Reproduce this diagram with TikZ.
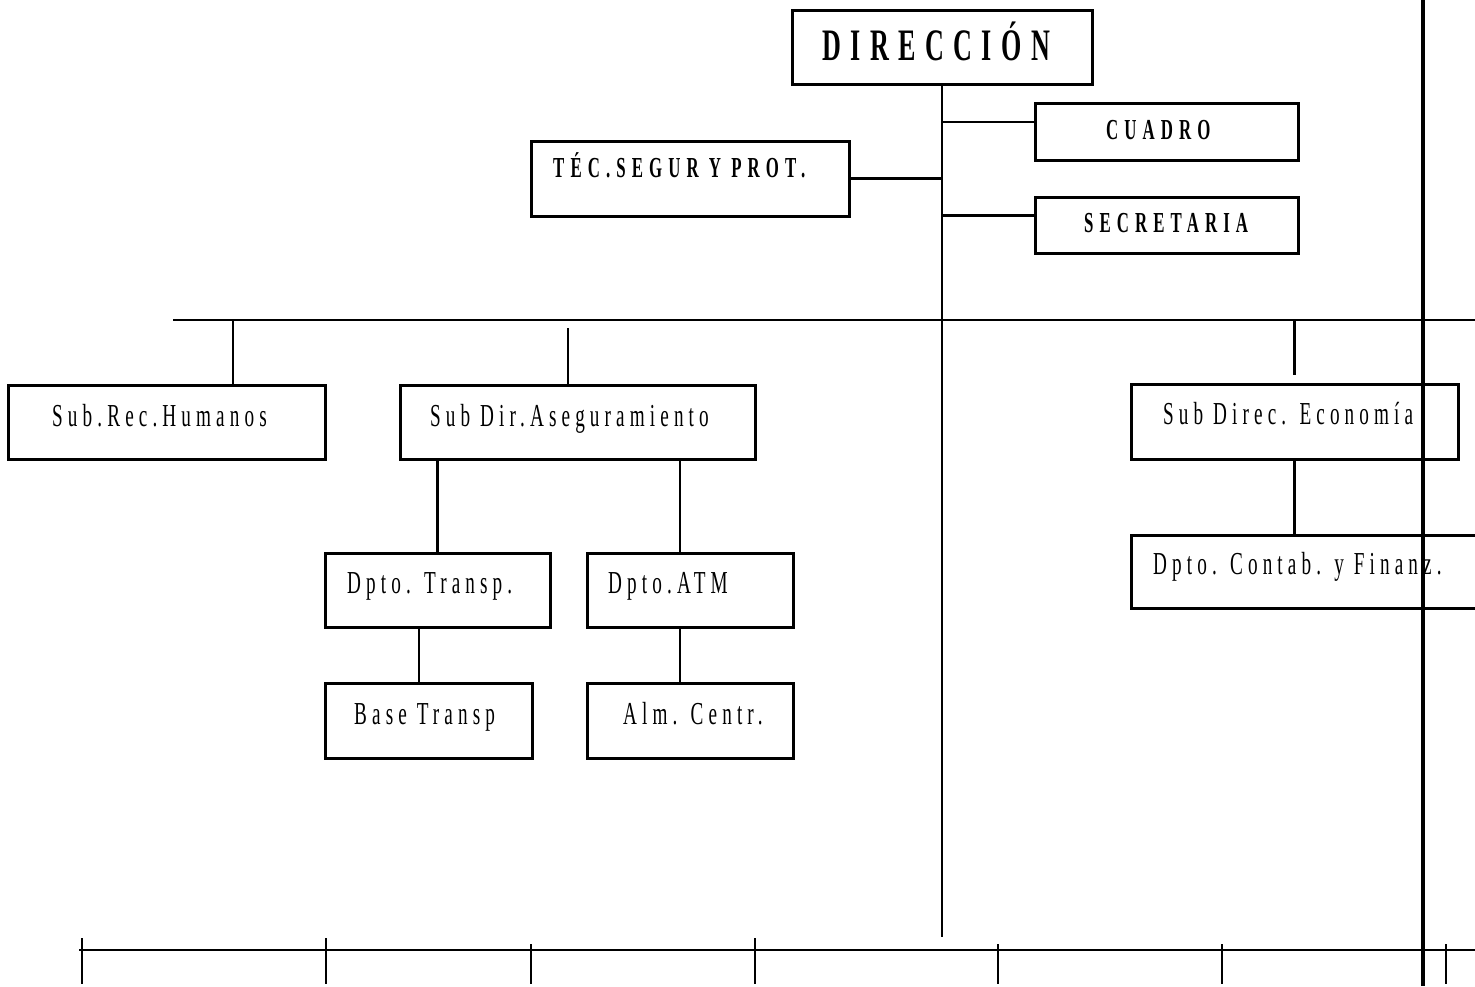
\documentclass[tikz,border=0pt]{standalone}
\usepackage{fontspec}
\newfontfamily\regfont{Liberation Serif}[FakeStretch=0.6,LetterSpace=16]
\newfontfamily\boldfont{Liberation Serif}[FakeStretch=0.58,LetterSpace=21]
\begin{document}
\begin{tikzpicture}[x=1pt,y=-1pt,
  box/.style={draw, line width=3pt, rectangle, inner sep=0pt},
  conn/.style={line width=2.5pt},
  thick line/.style={line width=4pt},
  reglabel/.style={anchor=base west, inner sep=0pt, font=\regfont\fontsize{32}{32}\selectfont},
  boldlabel/.style={anchor=base west, inner sep=0pt, font=\boldfont\bfseries\fontsize{29}{29}\selectfont},
]
\useasboundingbox (0,0) rectangle (1475,986);
\clip (0,0) rectangle (1475,986);

% boxes
\node[box, minimum width=300pt, minimum height=74pt] (dir) at (942,47) {};
\node[box, minimum width=263pt, minimum height=57pt] (cuadro) at (1166.5,131.5) {};
\node[box, minimum width=263pt, minimum height=56pt] (secr) at (1166.5,225) {};
\node[box, minimum width=318pt, minimum height=75pt] (tec) at (690,178.5) {};
\node[box, minimum width=317pt, minimum height=74pt] (hum) at (166.5,422) {};
\node[box, minimum width=355pt, minimum height=74pt] (ase) at (577.5,422) {};
\node[box, minimum width=327pt, minimum height=75pt] (econ) at (1294.5,421.5) {};
\node[box, minimum width=225pt, minimum height=74pt] (transp) at (437.5,590) {};
\node[box, minimum width=206pt, minimum height=74pt] (atm) at (690,590) {};
\node[box, minimum width=207pt, minimum height=75pt] (base) at (428.5,720.5) {};
\node[box, minimum width=206pt, minimum height=75pt] (alm) at (690,720.5) {};
\node[box, minimum width=359pt, minimum height=73pt] (contab) at (1310.5,571.5) {};

% labels
\node[boldlabel, font=\boldfont\bfseries\fontsize{45}{45}\selectfont] (tdir) at (822,60) {DIRECCIÓN};
\node[boldlabel] (tcuadro) at (1106,139.5) {CUADRO};
\node[boldlabel] (tsecr) at (1084,232.5) {SECRETARIA};
\node[boldlabel] (ttec) at (553,177) {TÉC.SEGUR Y PROT.};
\node[reglabel] (thum) at (52,426.7) {Sub.Rec.Humanos};
\node[reglabel] (tase) at (430,426.7) {Sub Dir.Aseguramiento};
\node[reglabel] (tecon) at (1163,424) {Sub Direc. Economía};
\node[reglabel] (tcontab) at (1153,574) {Dpto. Contab. y Finanz.};
\node[reglabel] (ttransp) at (347,593) {Dpto. Transp.};
\node[reglabel] (tatm) at (608,593) {Dpto.ATM};
\node[reglabel] (tbase) at (354,724) {Base Transp};
\node[reglabel] (talm) at (623,724) {Alm. Centr.};

% coordinates
\coordinate (spineEnd) at (942,937);
\coordinate (busL) at (173,320);
\coordinate (busR) at (1475,320);
\coordinate (botL) at (79,950);
\coordinate (botR) at (1475,950);
\coordinate (thickT) at (1423,0);
\coordinate (thickB) at (1423,986);

% spine and bus
\draw[conn] (dir.south) -- (spineEnd);
\draw[conn] (busL) -- (busR);
\draw[conn] (tec.east) -- (tec.east -| dir.south);
\draw[conn] ([yshift=9.5pt]cuadro.west) -- ([yshift=9.5pt]cuadro.west -| dir.south);
\draw[conn] ([yshift=9.5pt]secr.west) -- ([yshift=9.5pt]secr.west -| dir.south);

% second level
\draw[conn] ([xshift=66.5pt]hum.north) -- ([xshift=66.5pt]hum.north |- busL);
\draw[conn] ([xshift=-9.5pt]ase.north) -- ++(0,-56);
\draw[conn] ([yshift=8pt]econ.north) -- (econ.north |- busL);
\draw[conn] (econ.south) -- (econ.south |- contab.north);

% third level
\draw[conn] (transp.north) -- (transp.north |- ase.south);
\draw[conn] ([xshift=-10pt]atm.north) -- ([xshift=-10pt]atm.north |- ase.south);
\draw[conn] ([xshift=-18.5pt]transp.south) -- ([xshift=-18.5pt]transp.south |- base.north);
\draw[conn] ([xshift=-10pt]atm.south) -- ([xshift=-10pt]alm.north);

% bottom ruler
\draw[conn] (botL) -- (botR);
\foreach \tx/\ty in {82/938, 326/938, 531/944, 755/938, 998/944, 1222/944, 1446/944}
  \draw[conn] (\tx,\ty) -- (\tx,984);

% thick vertical line on the right
\draw[thick line] (thickT) -- (thickB);
\end{tikzpicture}
\end{document}
